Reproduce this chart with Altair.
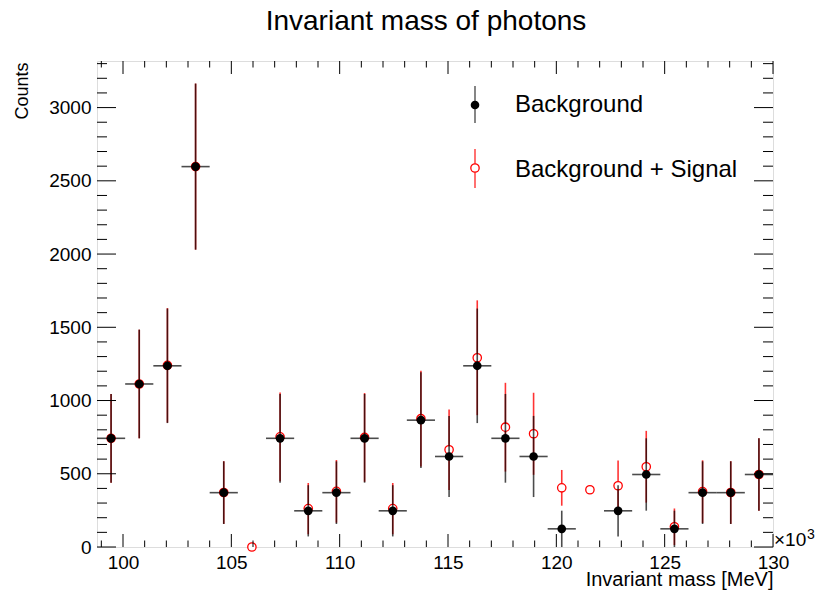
import altair as alt
import pandas as pd

# ---------------- data ----------------
bin_centers_mev = [99450, 100750, 102050, 103350, 104650, 105950, 107250, 108550,
                   109850, 111150, 112450, 113750, 115050, 116350, 117650, 118950,
                   120250, 121550, 122850, 124150, 125450, 126750, 128050, 129350]
bin_width_mev = 1300

bkg_counts = [742, 1113, 1237, 2597, 371, None, 742, 247, 371, 742, 247, 866,
              618, 1237, 742, 618, 124, None, 247, 495, 124, 371, 371, 495]
bkg_errors = [303, 371, 391, 567, 214, None, 303, 175, 214, 303, 175, 327,
              277, 391, 303, 277, 124, None, 175, 247, 124, 214, 214, 247]

sig_counts = [742, 1113, 1240, 2597, 372, 0, 752, 262, 380, 748, 262, 876,
              664, 1292, 818, 773, 404, 391, 418, 548, 138, 378, 372, 495]
sig_errors = [303, 371, 391, 567, 214, 0, 303, 175, 214, 303, 175, 327,
              275, 392, 303, 280, 122, 3, 172, 245, 125, 214, 214, 248]

legend_labels = ["Background", "Background + Signal"]
x_major_ticks = [100000, 105000, 110000, 115000, 120000, 125000, 130000]
x_minor_ticks = [v for v in range(99000, 130001, 1000) if v % 5000 != 0]
y_major_ticks = [0, 500, 1000, 1500, 2000, 2500, 3000]
y_minor_ticks = [v for v in range(100, 3301, 100) if v % 500 != 0]

# ---------------- tables ----------------
bkg = pd.DataFrame({"x": bin_centers_mev, "v": bkg_counts, "e": bkg_errors}).dropna()
bkg["lo"] = bkg["v"] - bkg["e"]
bkg["hi"] = bkg["v"] + bkg["e"]
bkg["xl"] = bkg["x"] - bin_width_mev / 2
bkg["xh"] = bkg["x"] + bin_width_mev / 2

sig = pd.DataFrame({"x": bin_centers_mev, "v": sig_counts, "e": sig_errors})
sig["lo"] = sig["v"] - sig["e"]
sig["hi"] = sig["v"] + sig["e"]

W, H = 676, 486
FONT = "Liberation Sans"
xs = alt.Scale(domain=[98800, 130000], nice=False, zero=False)
ys = alt.Scale(domain=[0, 3318], nice=False, zero=False)

x_axis = alt.Axis(
    values=x_major_ticks, labelExpr="format(datum.value / 1000, 'd')",
    ticks=False, domain=False, grid=False,
    labelFont=FONT, labelFontSize=19, labelColor="black", labelPadding=6,
    labelFlush=False, labelOverlap=False,
    title="Invariant mass [MeV]", titleFont=FONT, titleFontSize=20,
    titleFontWeight="normal", titleColor="black", titleAlign="right",
    titleX=W, titleY=38, titleBaseline="alphabetic", titleAngle=0)
y_axis = alt.Axis(
    values=y_major_ticks, format="d", ticks=False, domain=False, grid=False,
    labelFont=FONT, labelFontSize=19, labelColor="black", labelPadding=6,
    labelOverlap=False, labelFlush=False,
    title="Counts", titleFont=FONT, titleFontSize=18, titleFontWeight="normal",
    titleColor="black", titleAngle=270, titleAlign="right",
    titleX=-70, titleY=1, titleBaseline="alphabetic")


def X(field):
    return alt.X(field, type="quantitative", scale=xs, axis=x_axis)


def Y(field):
    return alt.Y(field, type="quantitative", scale=ys, axis=y_axis)


# ---------------- data layers ----------------
red_bars = alt.Chart(sig).mark_rule(color="#ff0000", opacity=0.8, strokeWidth=1.6).encode(
    x=X("x"), y=Y("lo"), y2="hi:Q")
red_pts = alt.Chart(sig).mark_point(
    shape="circle", filled=True, fill="white", fillOpacity=1, stroke="#ff0000",
    strokeWidth=1.3, strokeOpacity=1, size=70, clip=False
).encode(x=X("x"), y=Y("v"))
blk_h = alt.Chart(bkg).mark_rule(color="black", opacity=0.7, strokeWidth=1.6).encode(
    x=X("xl"), x2="xh:Q", y=Y("v"))
blk_v = alt.Chart(bkg).mark_rule(color="black", opacity=0.7, strokeWidth=1.6).encode(
    x=X("x"), y=Y("lo"), y2="hi:Q")
blk_pts = alt.Chart(bkg).mark_point(
    shape="circle", filled=True, color="black", opacity=1, size=75
).encode(x=X("x"), y=Y("v"))

# ---------------- inward ticks ----------------
def xticks(vals, length):
    d = pd.DataFrame({"t": vals})
    bottom = alt.Chart(d).mark_rule(color="black", strokeWidth=1).encode(
        x=X("t"), y=alt.value(H), y2=alt.value(H - length))
    top = alt.Chart(d).mark_rule(color="black", strokeWidth=1).encode(
        x=X("t"), y=alt.value(0), y2=alt.value(length))
    return [bottom, top]


def yticks(vals, length):
    d = pd.DataFrame({"t": vals})
    left = alt.Chart(d).mark_rule(color="black", strokeWidth=1).encode(
        y=Y("t"), x=alt.value(0), x2=alt.value(length))
    right = alt.Chart(d).mark_rule(color="black", strokeWidth=1).encode(
        y=Y("t"), x=alt.value(W), x2=alt.value(W - length))
    return [left, right]


tick_layers = (xticks(x_major_ticks, 13) + xticks(x_minor_ticks, 6.5)
               + yticks(y_major_ticks, 19) + yticks(y_minor_ticks, 10))

# ---------------- legend ----------------
one = pd.DataFrame({"k": [0]})
leg_b_bar = alt.Chart(one).mark_rule(color="black", opacity=0.6, strokeWidth=1.6).encode(
    x=alt.value(378), y=alt.value(25), y2=alt.value(62))
leg_b_pt = alt.Chart(one).mark_point(shape="circle", filled=True, color="black",
                                     opacity=1, size=75).encode(x=alt.value(378), y=alt.value(44))
leg_b_txt = alt.Chart(pd.DataFrame({"label": [legend_labels[0]]})).mark_text(
    align="left", baseline="alphabetic", font=FONT, fontSize=24, color="black").encode(
    text="label:N", x=alt.value(418), y=alt.value(51))
leg_s_bar = alt.Chart(one).mark_rule(color="#ff0000", opacity=0.7, strokeWidth=1.6).encode(
    x=alt.value(378), y=alt.value(88), y2=alt.value(127))
leg_s_pt = alt.Chart(one).mark_point(shape="circle", filled=True, fill="white", fillOpacity=1,
                                     stroke="#ff0000", strokeWidth=1.3, size=70).encode(
    x=alt.value(378), y=alt.value(107))
leg_s_txt = alt.Chart(pd.DataFrame({"label": [legend_labels[1]]})).mark_text(
    align="left", baseline="alphabetic", font=FONT, fontSize=24, color="black").encode(
    text="label:N", x=alt.value(418), y=alt.value(115.5))

exp_base = alt.Chart(pd.DataFrame({"label": ["×10"]})).mark_text(
    align="left", baseline="alphabetic", font=FONT, fontSize=19, color="black").encode(
    text="label:N", x=alt.value(W + 1), y=alt.value(H - 1))
exp_pow = alt.Chart(pd.DataFrame({"label": ["3"]})).mark_text(
    align="left", baseline="alphabetic", font=FONT, fontSize=14, color="black").encode(
    text="label:N", x=alt.value(W + 34), y=alt.value(H - 8))

chart = alt.layer(
    red_bars, red_pts, blk_h, blk_v, blk_pts, *tick_layers,
    leg_b_bar, leg_b_pt, leg_b_txt, leg_s_bar, leg_s_pt, leg_s_txt, exp_base, exp_pow,
).properties(
    width=W, height=H,
    title=alt.TitleParams("Invariant mass of photons", font=FONT, fontSize=28,
                          fontWeight="normal", color="black", anchor="middle",
                          frame="group", baseline="alphabetic", offset=3, dx=-9),
    autosize=alt.AutoSizeParams(type="none"),
    padding={"left": 97, "top": 61, "right": 48, "bottom": 51},
).configure_view(stroke="black", strokeWidth=1.5).configure(background="white")

chart.save("out.html", embed_options={"renderer": "svg", "actions": False})
